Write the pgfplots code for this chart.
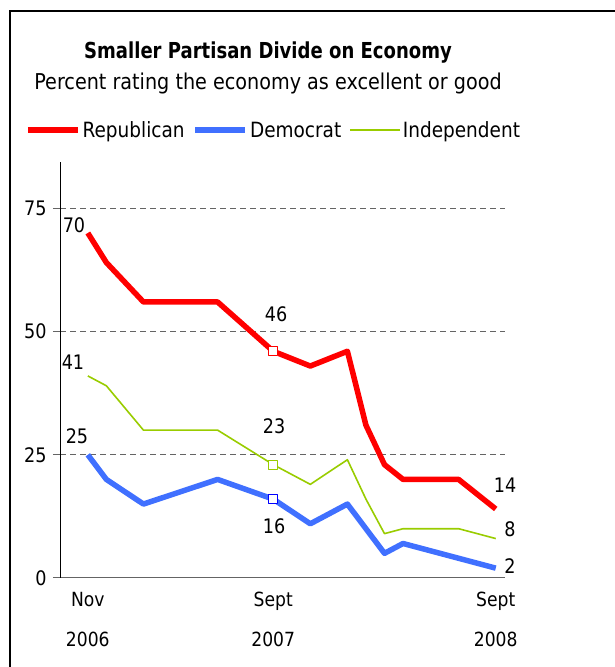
\documentclass[border=0pt]{standalone}
\usepackage{fontspec}
\setmainfont{DejaVu Sans}[FakeStretch=0.88]
\newfontfamily\titlefont{DejaVu Sans}[FakeStretch=0.82]
\usepackage{pgfplots}
\pgfplotsset{compat=1.18}
\definecolor{repred}{RGB}{255,0,0}
\definecolor{demblue}{RGB}{64,112,255}
\definecolor{demmark}{RGB}{0,0,255}
\definecolor{indgreen}{RGB}{153,204,0}
\definecolor{gridgray}{RGB}{100,100,100}

\begin{document}
\begin{tikzpicture}[x=1bp,y=1bp]
\useasboundingbox (0,0) rectangle (615,667);
\draw[line width=2bp] (10,-10) -- (10,656) -- (640,656);
\node[font=\titlefont\fontsize{22bp}{26bp}\selectfont\bfseries, anchor=base] at (268,608) {Smaller Partisan Divide on Economy};
\node[font=\fontsize{21.8bp}{26bp}\selectfont, anchor=base] at (268,577) {Percent rating the economy as excellent or good};

\begin{axis}[
  at={(60bp,89bp)}, anchor=south west,
  scale only axis, width=445bp, height=416bp,
  xmin=-1.5, xmax=22.5, ymin=0, ymax=84.4,
  axis x line*=bottom, axis y line*=left,
  x axis line style={draw=gridgray, line width=1bp, -},
  y axis line style={draw=black, line width=0.8bp, -},
  xtick={0,10,22},
  xticklabels={Nov\\2006, Sept\\2007, Sept\\2008},
  xtick style={draw=none},
  xticklabel style={align=center, font=\fontsize{19.5bp}{40bp}\selectfont, yshift=-4bp},
  ytick={0,25,50,75},
  ytick style={draw=gridgray, line width=1bp},
  tick align=outside, major tick length=7bp,
  yticklabel style={font=\fontsize{20bp}{24bp}\selectfont, xshift=-3bp},
  /pgf/number format/assume math mode=true,
  ymajorgrids,
  major grid style={draw=gridgray, line width=1bp, dash pattern=on 6bp off 4bp},
  legend style={at={(axis description cs:-0.079,1.077)}, anchor=west,
    draw=none, fill=none, inner sep=0pt, legend columns=-1,
    font=\fontsize{21bp}{25bp}\selectfont,
    /tikz/every even column/.append style={column sep=6bp}},
  legend image code/.code={\draw[#1] (0bp,0bp) -- (50bp,0bp);},
  every axis plot/.append style={line join=round},
]
\addplot[repred, line width=5.5bp, mark=square*, mark indices={5}, mark size=4.5bp,
  mark options={fill=white, draw=repred, line width=1.2bp}]
  coordinates {(0,70)(1,64)(3,56)(7,56)(10,46)(12,43)(14,46)(15,31)(16,23)(17,20)(20,20)(22,14)};
\addlegendentry{\strut Republican}
\addplot[demblue, line width=5.5bp, mark=square*, mark indices={5}, mark size=4.5bp,
  mark options={fill=white, draw=demmark, line width=1.2bp}]
  coordinates {(0,25)(1,20)(3,15)(7,20)(10,16)(12,11)(14,15)(15,10)(16,5)(17,7)(20,4)(22,2)};
\addlegendentry{\strut Democrat}
\addplot[indgreen, line width=1.6bp, mark=square*, mark indices={5}, mark size=4.5bp,
  mark options={fill=white, draw=indgreen, line width=1.2bp}]
  coordinates {(0,41)(1,39)(3,30)(7,30)(10,23)(12,19)(14,24)(15,16)(16,9)(17,10)(20,10)(22,8)};
\addlegendentry{\strut Independent}
\end{axis}

\begin{scope}[every node/.style={font=\fontsize{20bp}{24bp}\selectfont}]
\node at (74,442) {70};
\node at (73,305) {41};
\node at (77,231) {25};
\node at (276,353) {46};
\node at (274,241) {23};
\node at (274,141) {16};
\node at (505,182) {14};
\node at (510,138) {8};
\node at (510,101) {2};
\end{scope}
\end{tikzpicture}
\end{document}
